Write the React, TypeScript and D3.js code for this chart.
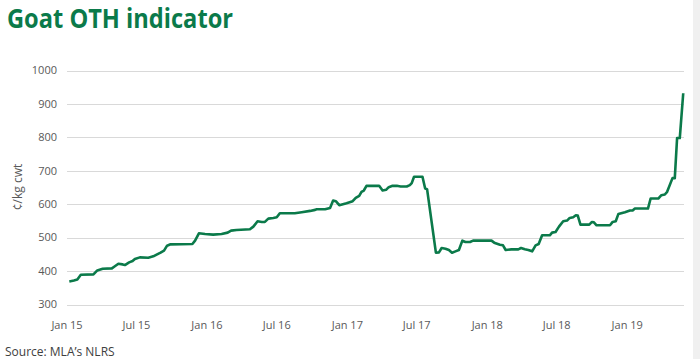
import React from 'react';
import * as d3 from 'd3';

// vertices of the weekly series
const dates = [
  '2015-01-07', '2015-01-19', '2015-01-28', '2015-02-06', '2015-03-11', '2015-03-21', '2015-04-04', '2015-04-28',
  '2015-05-04', '2015-05-15', '2015-05-26', '2015-06-01', '2015-06-12', '2015-06-21', '2015-06-27', '2015-07-10',
  '2015-08-01', '2015-08-14', '2015-08-24', '2015-09-02', '2015-09-11', '2015-09-19', '2015-09-28', '2015-11-24',
  '2015-12-01', '2015-12-11', '2015-12-27', '2016-01-17', '2016-02-08', '2016-02-24', '2016-03-04', '2016-03-18',
  '2016-04-22', '2016-05-01', '2016-05-12', '2016-05-23', '2016-05-31', '2016-06-09', '2016-06-22', '2016-07-01',
  '2016-07-09', '2016-08-17', '2016-09-04', '2016-09-26', '2016-10-09', '2016-10-13', '2016-11-04', '2016-11-17',
  '2016-11-25', '2016-12-02', '2016-12-11', '2016-12-30', '2017-01-15', '2017-01-23', '2017-02-01', '2017-02-07',
  '2017-02-13', '2017-02-20', '2017-03-25', '2017-04-03', '2017-04-12', '2017-04-19', '2017-04-29', '2017-05-10',
  '2017-05-20', '2017-06-05', '2017-06-13', '2017-06-18', '2017-06-24', '2017-07-16', '2017-07-23', '2017-07-28',
  '2017-08-20', '2017-08-28', '2017-09-04', '2017-09-14', '2017-09-23', '2017-10-01', '2017-10-10', '2017-10-19',
  '2017-10-28', '2017-11-05', '2017-11-17', '2017-11-25', '2018-01-12', '2018-01-19', '2018-02-03', '2018-02-11',
  '2018-02-18', '2018-03-05', '2018-03-23', '2018-03-30', '2018-04-09', '2018-04-18', '2018-04-28', '2018-05-07',
  '2018-05-15', '2018-05-24', '2018-06-13', '2018-06-19', '2018-06-28', '2018-07-07', '2018-07-18', '2018-07-28',
  '2018-08-04', '2018-08-13', '2018-08-20', '2018-08-25', '2018-09-01', '2018-09-24', '2018-10-01', '2018-10-06',
  '2018-10-13', '2018-11-17', '2018-11-24', '2018-12-02', '2018-12-09', '2018-12-26', '2019-01-08', '2019-01-15',
  '2019-01-21', '2019-02-24', '2019-03-03', '2019-03-23', '2019-03-31', '2019-04-09', '2019-04-15', '2019-04-29',
  '2019-05-05', '2019-05-11', '2019-05-18', '2019-05-27',
];
const values = [
  369, 372, 375, 389, 390, 402, 407, 408,
  413, 422, 420, 418, 426, 430, 436, 441,
  440, 444, 450, 455, 461, 476, 480, 481,
  491, 513, 511, 509, 511, 515, 521, 523,
  525, 533, 549, 547, 547, 557, 559, 561,
  573, 573, 576, 580, 583, 585, 585, 589,
  611, 609, 597, 603, 609, 619, 625, 637,
  641, 655, 655, 641, 643, 651, 655, 655,
  653, 653, 657, 663, 682, 682, 647, 645,
  455, 456, 469, 467, 463, 455, 459, 463,
  491, 487, 487, 491, 491, 485, 479, 477,
  463, 465, 465, 469, 465, 463, 459, 477,
  481, 507, 507, 515, 517, 533, 549, 551,
  559, 561, 567, 566, 539, 539, 547, 546,
  537, 537, 547, 549, 571, 576, 581, 581,
  587, 587, 617, 617, 627, 629, 637, 678,
  678, 798, 798, 932,
];
const yTicks = [300, 400, 500, 600, 700, 800, 900, 1000];
const xTickDates = ['2015-01-01', '2015-07-01', '2016-01-01', '2016-07-01', '2017-01-01', '2017-07-01', '2018-01-01', '2018-07-01', '2019-01-01'];

const W = 700;
const H = 359;
const green = '#0b7a4a';

export default function App() {
  const parse = d3.utcParse('%Y-%m-%d');
  const points = dates.map((d, i) => ({ date: parse(d) as Date, value: values[i] }));

  const x = d3.scaleUtc([parse('2015-01-01') as Date, parse('2019-05-29') as Date], [67, 684]);
  const y = d3.scaleLinear([300, 1000], [304.5, 70.5]);
  const line = d3.line<{ date: Date; value: number }>().x(d => x(d.date)).y(d => y(d.value));
  const fmt = d3.utcFormat('%b %y');

  return (
    <svg width={W} height={H} style={{ position: 'absolute', left: 0, top: 0, background: '#fff' }}
      fontFamily="'Open Sans', sans-serif">
      <rect x={0} y={0} width={W} height={H} fill="#fff" />
      <rect x={693} y={0} width={7} height={H} fill="#f0f0f0" />
      <text x={7} y={28} fontSize={26} fontWeight={700} fill={green} textLength={226} lengthAdjust="spacingAndGlyphs">
        Goat OTH indicator
      </text>

      {/* grid and y labels */}
      <g>
        {yTicks.map(t => (
          <g key={t}>
            <line x1={67} x2={684} y1={Math.round(y(t)) + 0.5} y2={Math.round(y(t)) + 0.5} stroke="#d9d9d9" strokeWidth={1} />
            <text x={57} y={y(t)} dy="0.35em" textAnchor="end" fontSize={11} fill="#595959">{t}</text>
          </g>
        ))}
      </g>
      <text transform="translate(22,187) rotate(-90)" textAnchor="middle" fontSize={12} fill="#595959">¢/kg cwt</text>

      {/* x labels */}
      <g>
        {xTickDates.map(s => {
          const d = parse(s) as Date;
          return (
            <text key={s} x={x(d)} y={325} dy="0.35em" textAnchor="middle" fontSize={11} fill="#595959">{fmt(d)}</text>
          );
        })}
      </g>

      <path d={line(points) ?? ''} fill="none" stroke={green} strokeWidth={2.6} strokeLinejoin="round" />

      <text x={5} y={352} dy="0.35em" fontSize={12} fill="#404040">Source: MLA’s NLRS</text>
    </svg>
  );
}
